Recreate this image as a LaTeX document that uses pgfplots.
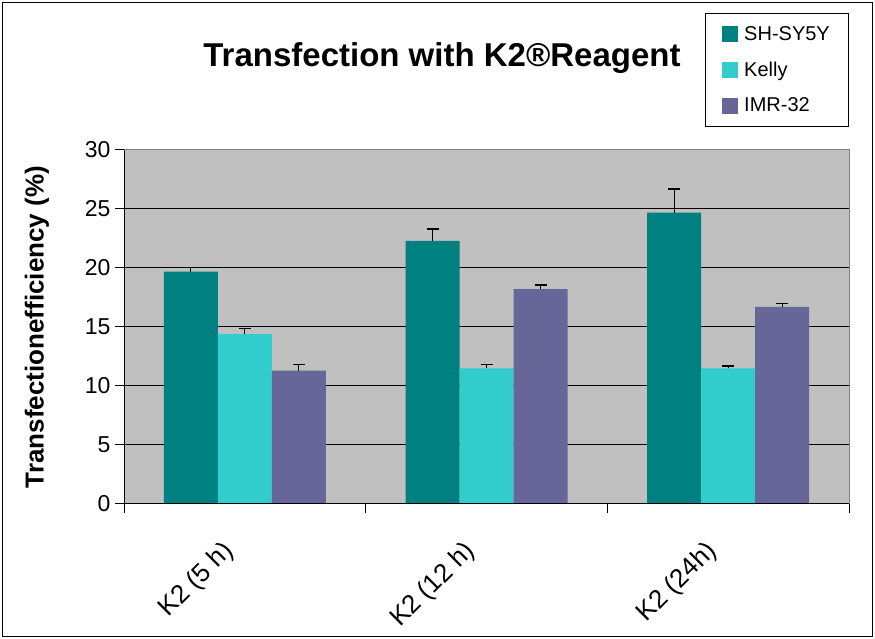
\documentclass[border=0pt]{standalone}
\usepackage{fontspec}
\setmainfont{Liberation Sans}
\usepackage{pgfplots}
\pgfplotsset{compat=1.18}
\definecolor{shsy}{HTML}{008080}
\definecolor{kelly}{HTML}{33CCCC}
\definecolor{imr}{HTML}{666699}
\definecolor{bgray}{HTML}{C0C0C0}
\definecolor{edgegray}{HTML}{808080}
\begin{document}
\begin{tikzpicture}[x=1pt,y=1pt]
\useasboundingbox (0,0) rectangle (875,639);
\draw[line width=1.5pt] (2.5,2.5) rectangle (872.5,636.5);
\node[font=\bfseries\fontsize{33}{36}\selectfont] at (442,581) {Transfection with K2\textregistered Reagent};
\node[rotate=90,font=\bfseries\fontsize{26}{28}\selectfont] at (37,312) {Transfectionefficiency (\%)};
\begin{axis}[
  at={(124pt,135pt)}, anchor=south west,
  scale only axis, width=725pt, height=354pt,
  ybar=0pt, bar width=54pt,
  xmin=-0.5, xmax=2.5, ymin=0, ymax=30,
  xtick={0,1,2}, xticklabels={K2 (5 h),K2 (12 h),K2 (24h)},
  xtick style={draw=none},
  extra x ticks={-0.5,0.5,1.5,2.5}, extra x tick labels={},
  extra x tick style={xtick style={draw=black,line width=1pt}, tick align=outside, major tick length=9pt},
  ytick={0,5,...,30},
  ytick style={draw=black,line width=1pt},
  tick align=outside, major tick length=9pt,
  xtick pos=bottom, ytick pos=left,
  ymajorgrids, grid style={black,line width=1pt},
  axis background/.style={fill=bgray},
  axis line style={draw=edgegray,line width=1pt},
  ticklabel style={font=\fontsize{23}{25}\selectfont},
  xticklabel style={xshift=-24pt, yshift=-21pt, rotate=45, anchor=north east, font=\fontsize{26}{28}\selectfont},
  /pgf/number format/assume math mode=true,
  yticklabel style={xshift=-1pt},
  legend style={at={(rel axis cs:0.801,1.387)}, anchor=north west, draw=black, line width=1pt, fill=white,
    font=\fontsize{20}{22}\selectfont, inner xsep=17pt, inner ysep=11pt, row sep=16pt,
    /tikz/every odd column/.append style={column sep=4pt}},
  legend cell align=left,
  legend image code/.code={\fill[#1,draw=none] (2pt,-8pt) rectangle (18pt,8pt);},
  error bars/error bar style={black,line width=1.3pt},
  error bars/error mark options={rotate=90,mark size=6pt,black,line width=1.3pt},
]
\addplot+[fill=shsy,draw=none,error bars/.cd,y dir=plus,y explicit] coordinates {
  (0,19.7) +- (0,0.35)
  (1,22.3) +- (0,1.0)
  (2,24.7) +- (0,2.0)
};
\addplot+[fill=kelly,draw=none,error bars/.cd,y dir=plus,y explicit] coordinates {
  (0,14.4) +- (0,0.5)
  (1,11.5) +- (0,0.35)
  (2,11.5) +- (0,0.2)
};
\addplot+[fill=imr,draw=none,error bars/.cd,y dir=plus,y explicit] coordinates {
  (0,11.3) +- (0,0.5)
  (1,18.2) +- (0,0.35)
  (2,16.7) +- (0,0.27)
};
\legend{SH-SY5Y,Kelly,IMR-32}
\draw[black,line width=1pt] (rel axis cs:0,0) -- (rel axis cs:0,1);
\draw[black,line width=1pt] (rel axis cs:0,0) -- (rel axis cs:1,0);
\end{axis}
\end{tikzpicture}
\end{document}
